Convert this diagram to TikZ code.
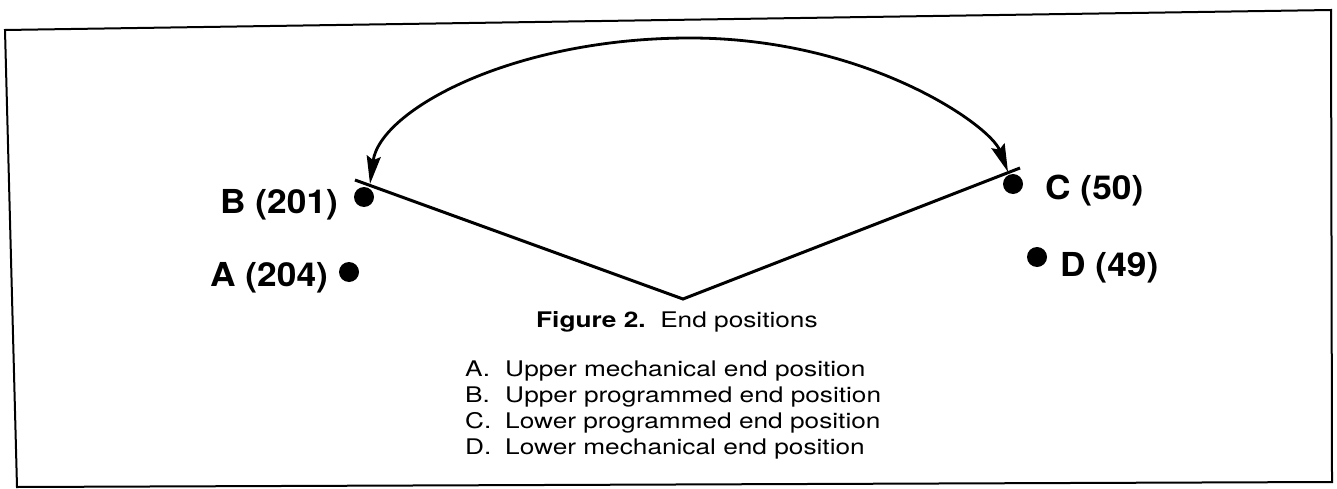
\documentclass[tikz,border=0pt]{standalone}
\usepackage{fontspec}
\setmainfont{TeX Gyre Heros}
\newfontfamily\labelfont[FakeStretch=1.07]{TeX Gyre Heros}
\newfontfamily\listfont[FakeStretch=1.22]{TeX Gyre Heros}
\usepackage{tikz}
\usetikzlibrary{arrows.meta}
\tikzset{
  frame/.style={line width=2pt,line join=miter},
  arm/.style={line width=3pt},
  swing/.style={{Stealth[length=28pt,width=14pt,inset=4pt]}-{Stealth[length=28pt,width=14pt,inset=4pt]},line width=2.8pt},
  posdot/.style={circle,fill=black,inner sep=0pt,minimum size=20pt},
  lbl/.style={anchor=base west,inner sep=0pt,font=\labelfont\fontsize{33}{36}\selectfont\bfseries},
  legend/.style={anchor=base west,inner sep=0pt,align=left,font=\listfont\fontsize{21.5}{26}\selectfont},
}
\newcommand\posline[2]{\makebox[40pt][l]{#1}#2}

\begin{document}
\begin{tikzpicture}[x=1pt,y=-1pt]
\useasboundingbox (0,0) rectangle (1337,489);
\draw[frame] (5,30) -- (1331,10) -- (1332,482) -- (17,487) -- cycle;

% end positions
\node[posdot] (dotB) at (364,197) {};
\node[posdot] (dotA) at (349,272) {};
\node[posdot] (dotC) at (1013,184) {};
\node[posdot] (dotD) at (1037,257) {};
\node[lbl] (labB) at (220,213) {B (201)};
\node[lbl] (labA) at (210,286) {A (204)};
\node[lbl] (labC) at (1045,200) {C (50)};
\node[lbl] (labD) at (1060,276) {D (49)};

% arm
\coordinate (endB) at (355,180);
\coordinate (apex) at (683,299);
\coordinate (endC) at (1020,168);
\draw[arm] (endB) -- (apex) -- (endC);

% swing between programmed ends
\coordinate (tipB) at (370,184);
\coordinate (top) at (690,38);
\coordinate (tipC) at (1008,172);
\draw[swing] (tipB) .. controls (380,110) and (513,38) .. (top)
  .. controls (866,38) and (990,125) .. (tipC);

% caption (base of the list = its last line)
\node[legend] (cap) at (536,327) {{\bfseries Figure 2.}\ \ End positions};
\node[legend] (list) at (465,454) {%
  \posline{A.}{Upper mechanical end position}\\
  \posline{B.}{Upper programmed end position}\\
  \posline{C.}{Lower programmed end position}\\
  \posline{D.}{Lower mechanical end position}};
\end{tikzpicture}
\end{document}
